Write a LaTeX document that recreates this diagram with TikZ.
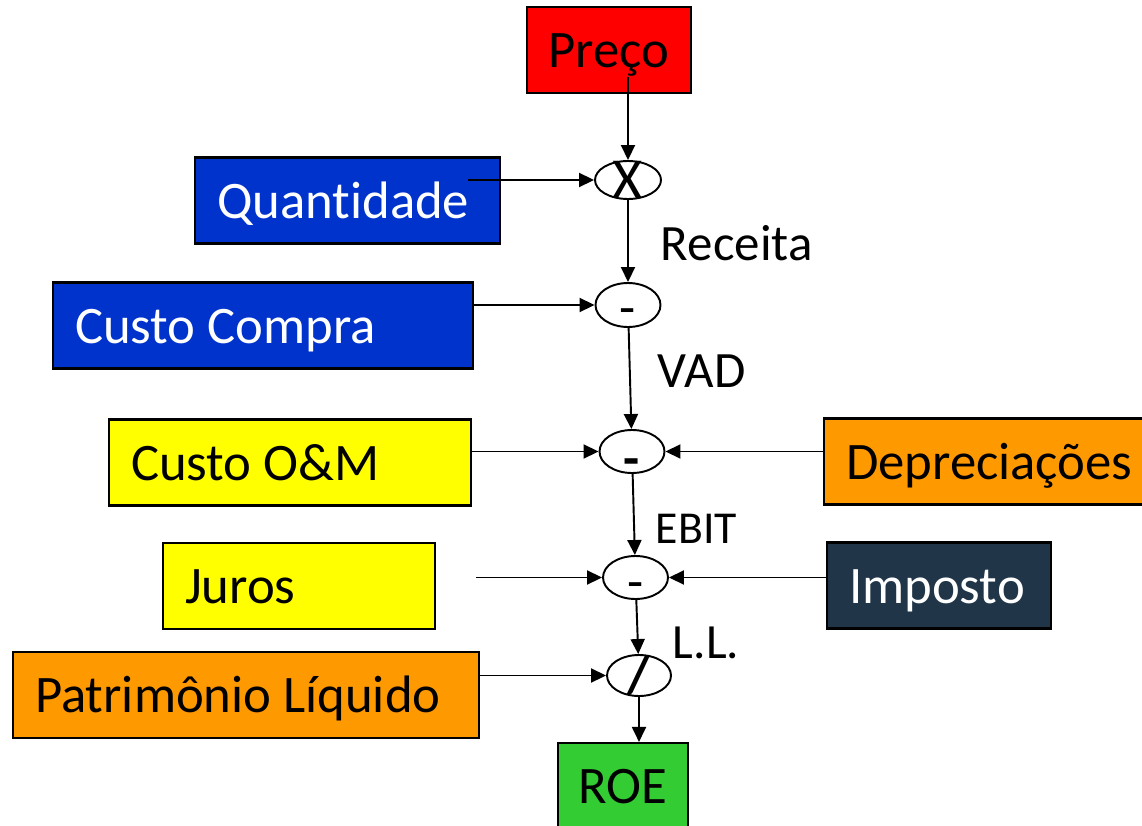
\documentclass[tikz,border=0pt]{standalone}
\usepackage{fontspec}
\setmainfont{Carlito}[Ligatures=NoCommon, Contextuals=NoAlternate]
\usepackage{tikz}
\usetikzlibrary{arrows.meta,shapes.geometric}
\definecolor{boxred}{HTML}{FF0000}
\definecolor{boxblue}{HTML}{0033CC}
\definecolor{boxyellow}{HTML}{FFFF00}
\definecolor{boxorange}{HTML}{FF9900}
\definecolor{boxnavy}{HTML}{203548}
\definecolor{boxgreen}{HTML}{33CC33}
\tikzset{
box/.style = {rectangle, draw=black, line width=1.2pt, minimum width=#1,
              minimum height=1.72cm, inner ysep=0pt, text height=0.7cm,
              text depth=0pt, font=\fontsize{30}{36}\selectfont},
box/.default = 1cm % width of the block
}
\tikzset{
lbox/.style = {box, align=left, inner xsep=0.44cm, text width=#1,
               execute at begin node={\spaceskip=0pt\relax}}
}
\tikzset{
op/.style = {ellipse, draw=black, line width=1.1pt, inner sep=0pt,
             minimum width=1.3cm, minimum height=0.86cm}
}
\tikzset{
lbl/.style = {anchor=base west, inner sep=0pt, font=\fontsize{#1}{#1}\selectfont},
lbl/.default = 29
}

\begin{document}
\begin{tikzpicture}[>={Triangle[length=0.3cm,width=0.28cm]}, line width=1.1pt]
    \useasboundingbox (0,0) rectangle (22.84,16.5);
    \clip (0,0) rectangle (22.84,16.5);

    \node[box=3.28cm, fill=boxred] (preco) at (12.18,15.5) {Preço};
    \node[lbox=5.22cm, fill=boxblue, text=white] (quant) at (6.95,12.49) {Quantidade};
    \node[lbox=7.52cm, fill=boxblue, text=white] (compra) at (5.26,9.99) {Custo Compra};
    \node[lbox=6.36cm, fill=boxyellow] (om) at (5.8,7.25) {Custo O\&M};
    \node[lbox=5.94cm, fill=boxorange] (depr) at (19.89,7.27) {Depreciações};
    \node[lbox=4.56cm, fill=boxyellow] (juros) at (5.98,4.78) {Juros};
    \node[lbox=3.6cm, fill=boxnavy, text=white] (impost) at (18.78,4.79) {Imposto};
    \node[lbox=8.44cm, fill=boxorange] (patr) at (4.92,2.6) {Patrimônio Líquido};
    \node[box=2.6cm, fill=boxgreen] (roe) at (12.46,0.78) {ROE};

    \node[op, minimum width=1.32cm, minimum height=0.76cm,
          label={[font=\fontsize{33}{33}\selectfont]center:X}] (mult) at (12.56,12.9) {};
    \node[op, minimum height=0.88cm,
          label={[font=\fontsize{30}{30}\selectfont, yshift=-0.24cm]center:-}] (subA) at (12.56,10.4) {};
    \node[op, label={[font=\fontsize{30}{30}\selectfont\bfseries, yshift=-0.32cm]center:-}] (subB) at (12.64,7.47) {};
    \node[op, label={[font=\fontsize{30}{30}\selectfont, yshift=-0.28cm]center:-}] (subC) at (12.71,4.95) {};
    \node[op, minimum width=1.28cm, minimum height=0.82cm,
          label={[font=\fontsize{30}{30}\selectfont\bfseries]center:/}] (divi) at (12.78,2.99) {};

    \node[lbl] (rec) at (13.2,11.3) {Receita};
    \node[lbl] (vad) at (13.14,8.76) {VAD};
    \node[lbl=26] (ebit) at (13.1,5.64) {EBIT};
    \node[lbl=28] (ll) at (13.44,3.34) {L.L.};

    \coordinate (precoOut) at (12.56,14.96);
    \coordinate (quantOut) at (9.36,12.9);
    \coordinate (jurosOut) at (9.52,4.95);

    \draw[->] (precoOut) -- (mult);
    \draw[->] (quantOut) -- (mult);
    \draw[->] (mult) -- (subA);
    \draw[->] (compra.east |- subA) -- (subA);
    \draw[->] (subA) -- (subB);
    \draw[->] (om.east |- subB) -- (subB);
    \draw[->] (depr.west |- subB) -- (subB);
    \draw[->] (subB) -- (subC);
    \draw[->] (jurosOut) -- (subC);
    \draw[->] (impost.west |- subC) -- (subC);
    \draw[->] (subC) -- (divi);
    \draw[->] (patr.east |- divi) -- (divi);
    \draw[->] (divi) -- (divi |- roe.north);
\end{tikzpicture}
\end{document}
